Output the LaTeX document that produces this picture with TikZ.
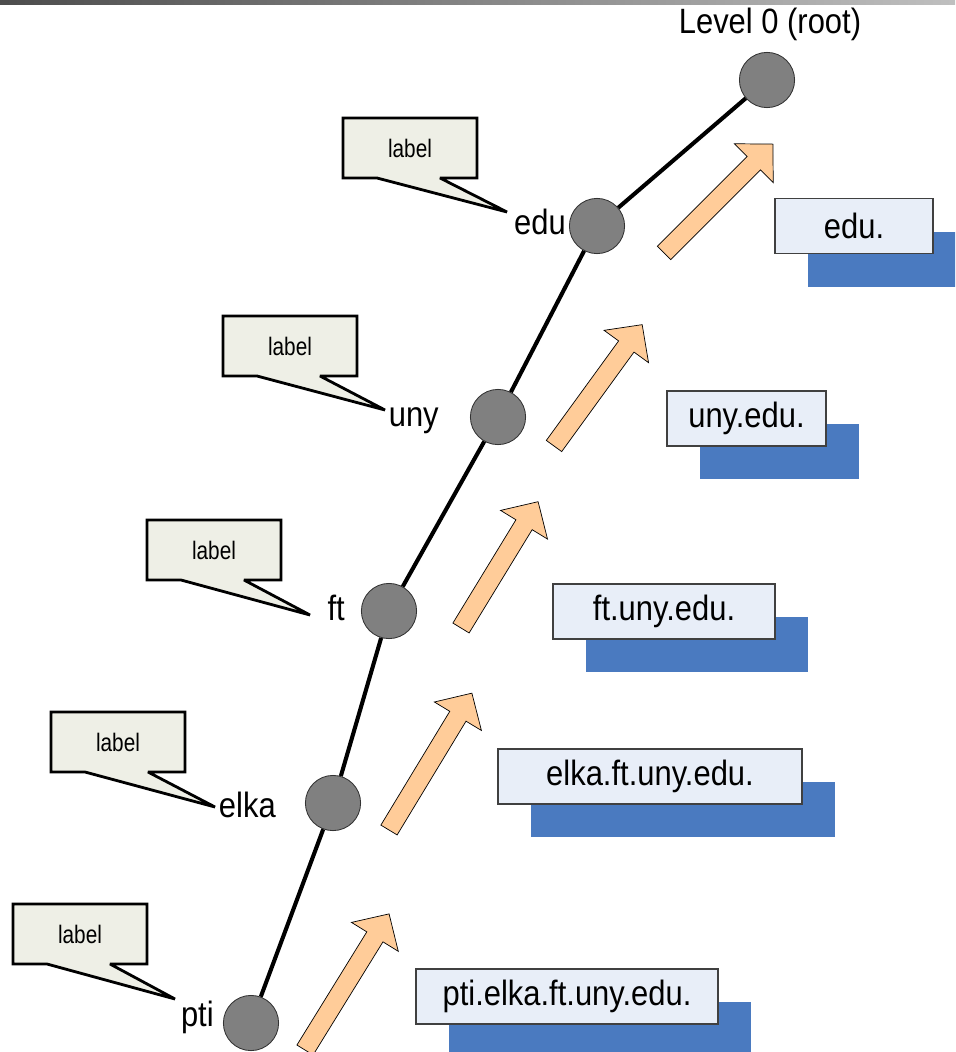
\documentclass[tikz,border=0pt]{standalone}
\usepackage{fontspec}
\setmainfont{Liberation Sans}
\newfontfamily\namefont{Liberation Sans}[FakeStretch=0.88]
\newfontfamily\calloutfont{Liberation Sans}[FakeStretch=0.82]
\usepackage{xcolor}
\usetikzlibrary{shadows}

\definecolor{nodegray}{HTML}{808080}
\definecolor{calloutfill}{HTML}{EEEFE6}
\definecolor{arrowfill}{HTML}{FFCC99}
\definecolor{zonefill}{HTML}{E8EEF8}
\definecolor{zoneblue}{HTML}{4A7AC0}

\tikzset{
	level node/.style={circle, draw=black!80, line width=0.6pt, fill=nodegray, minimum size=1.38cm, inner sep=0pt},
	name text/.style={font=\namefont\fontsize{25}{28}\selectfont, inner sep=0pt},
	tree line/.style={line width=2.9pt},
	callout box/.style={draw, line width=2pt, fill=calloutfill, line join=miter, miter limit=4},
	callout text/.style={font=\calloutfont\fontsize{18}{20}\selectfont, inner sep=0pt},
	zone arrow/.style={draw, line width=0.5pt, fill=arrowfill, line join=miter},
	zone box/.style={draw=black!75, line width=0.8pt, fill=zonefill, minimum height=1.375cm, inner sep=0pt,
		font=\namefont\fontsize{25}{28}\selectfont,
		drop shadow={shadow xshift=0.825cm, shadow yshift=-0.825cm, fill=zoneblue, opacity=1}},
}

% callout: name, bottom-left corner, pointer tip
\newcommand{\levelcallout}[5]{%
	\draw[callout box] (#2,#3) -- ++(0,-60) -- ++(134,0) -- ++(0,60) -- (#2+97,#3) -- (#4,#5) -- (#2+34,#3) -- cycle;
	\node[callout text] (#1) at (#2+67,#3-30) {label};
}

% block arrow: tail, angle, length
\newcommand{\zonearrow}[4]{%
	\begin{scope}[shift={(#1,#2)}, rotate=#3]
		\draw[zone arrow] (0,-9.5) -- (#4-27,-9.5) -- (#4-27,-27.5) -- (#4,0) -- (#4-27,27.5) -- (#4-27,9.5) -- (0,9.5) -- cycle;
	\end{scope}}

\begin{document}
\begin{tikzpicture}[x=0.025cm, y=-0.025cm]
	\useasboundingbox (0,0) rectangle (955,1052);
	\clip (0,0) rectangle (955,1052);
	
	\shade[left color=black!70, right color=black!25] (0,0) rectangle (955,4);
	
	% levels
	\node[level node] (root) at (767,80) {};
	\node[level node] (edu) at (597,226) {};
	\node[level node] (uny) at (498,417) {};
	\node[level node] (ft) at (389,611) {};
	\node[level node] (elka) at (333,803) {};
	\node[level node] (pti) at (251,1023) {};
	\draw[tree line] (root) -- (edu) -- (uny) -- (ft) -- (elka) -- (pti);
	
	\node[name text, anchor=base] (root-name) at (770,33) {Level 0 (root)};
	\node[name text, anchor=base east] (edu-name) at (566,234) {edu};
	\node[name text, anchor=base east] (uny-name) at (439,426) {uny};
	\node[name text, anchor=base east] (ft-name) at (345,620) {ft};
	\node[name text, anchor=base east] (elka-name) at (276,817) {elka};
	\node[name text, anchor=base east] (pti-name) at (214,1026) {pti};
	
	% callouts
	\levelcallout{edu-label}{343}{178}{507}{212}
	\levelcallout{uny-label}{223}{376}{385}{410}
	\levelcallout{ft-label}{147}{580}{310}{615}
	\levelcallout{elka-label}{51}{772}{215}{807}
	\levelcallout{pti-label}{13}{964}{175}{999}
	
	% arrows
	\zonearrow{664}{253}{45}{154}
	\zonearrow{554}{446}{54}{150}
	\zonearrow{461}{628}{58.6}{148}
	\zonearrow{389}{830}{58.8}{160}
	\zonearrow{305}{1050}{58.3}{160}
	
	% domain names
	\node[zone box, minimum width=3.95cm] (edu-zone) at (854,226) {edu.};
	\node[zone box, minimum width=3.975cm] (uny-zone) at (746.5,418.5) {uny.edu.};
	\node[zone box, minimum width=5.55cm] (ft-zone) at (664,611.5) {ft.uny.edu.};
	\node[zone box, minimum width=7.6cm] (elka-zone) at (650,776.5) {elka.ft.uny.edu.};
	\node[zone box, minimum width=7.55cm] (pti-zone) at (567,996.5) {pti.elka.ft.uny.edu.};
\end{tikzpicture}
\end{document}
